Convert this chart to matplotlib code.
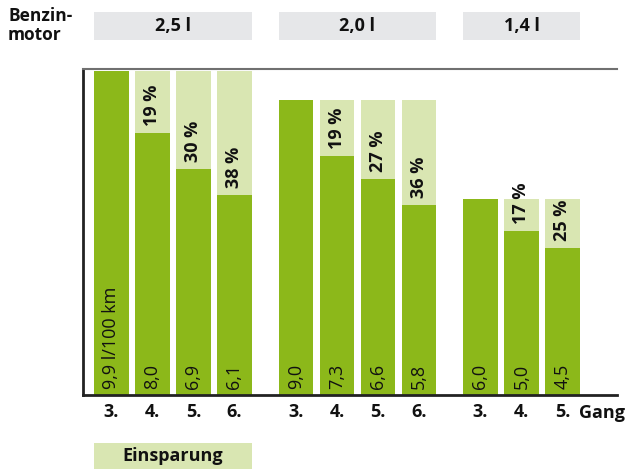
import matplotlib
matplotlib.use("Agg")
import matplotlib.pyplot as plt
from matplotlib.patches import Rectangle
from matplotlib.transforms import offset_copy, blended_transform_factory

plt.rcParams['font.family'] = ['Open Sans', 'DejaVu Sans']

# ---- data ----
engines = ["2,5 l", "2,0 l", "1,4 l"]
gears = [["3.", "4.", "5.", "6."], ["3.", "4.", "5.", "6."], ["3.", "4.", "5."]]
consumption = [[9.9, 8.0, 6.9, 6.1], [9.0, 7.3, 6.6, 5.8], [6.0, 5.0, 4.5]]
value_labels = [["9,9 l/100 km", "8,0", "6,9", "6,1"],
                ["9,0", "7,3", "6,6", "5,8"],
                ["6,0", "5,0", "4,5"]]
savings = [["", "19 %", "30 %", "38 %"],
           ["", "19 %", "27 %", "36 %"],
           ["", "17 %", "25 %"]]
title = "Benzin-\nmotor"
unit_label = "Gang"
legend_label = "Einsparung"

GREEN = "#8cb81a"
LIGHT = "#d9e6b2"
GRAY = "#e6e7e9"
TXT = "#111111"

W, H = 636, 470
fig = plt.figure(figsize=(W / 100, H / 100), dpi=100)
ax_l, ax_r, ax_t, ax_b = 83, 617, 69, 395
ax = fig.add_axes([ax_l / W, (H - ax_b) / H, (ax_r - ax_l) / W, (ax_b - ax_t) / H])

step, gap, bw = 1.0, 1.5, 0.85
positions = []
x = 0.0
for gi, g in enumerate(consumption):
    pos = []
    for i in range(len(g)):
        pos.append(x)
        x += step
    x += gap - step
    positions.append(pos)

ax.set_xlim(-0.695, 12.33)
ax.set_ylim(0, 9.96)

for gi, vals in enumerate(consumption):
    pos = positions[gi]
    base = vals[0]
    ax.bar(pos[1:], [base] * (len(vals) - 1), width=bw, color=LIGHT, zorder=1)
    ax.bar(pos, vals, width=bw, color=GREEN, zorder=2)
    for i, (p, v) in enumerate(zip(pos, vals)):
        tr = offset_copy(ax.transData, fig=fig, x=0, y=6, units='dots')
        ax.text(p, 0, value_labels[gi][i], rotation=90, ha='center', va='bottom',
                fontsize=13, color=TXT, transform=tr, zorder=3)
        if savings[gi][i]:
            tr2 = offset_copy(ax.transData, fig=fig, x=0, y=7, units='dots')
            ax.text(p, v, savings[gi][i], rotation=90, ha='center', va='bottom',
                    fontsize=13, fontweight='bold', color=TXT, transform=tr2, zorder=3)

ax.spines['right'].set_visible(False)
ax.spines['top'].set_color('#707070')
ax.spines['top'].set_linewidth(1.5)
ax.spines['left'].set_linewidth(2)
ax.spines['left'].set_color('#222222')
ax.spines['bottom'].set_linewidth(2)
ax.spines['bottom'].set_color('#222222')

all_pos = [p for pos in positions for p in pos]
all_lab = [l for gl in gears for l in gl]
ax.set_xticks(all_pos)
ax.set_xticklabels(all_lab, fontsize=13, fontweight='bold', color=TXT)
ax.tick_params(axis='x', length=0, pad=6)
ax.set_yticks([])

ax.annotate(unit_label, xy=(positions[-1][-1], 0), xycoords='data',
            xytext=(17, -9), textcoords='offset pixels',
            ha='left', va='top', fontsize=13, fontweight='bold', color=TXT,
            annotation_clip=False)

bt = blended_transform_factory(ax.transData, fig.transFigure)
for gi, name in enumerate(engines):
    pos = positions[gi]
    x0 = pos[0] - bw / 2
    x1 = pos[-1] + bw / 2
    y0 = (H - 40) / H
    y1 = (H - 12) / H
    ax.add_patch(Rectangle((x0, y0), x1 - x0, y1 - y0, transform=bt,
                           facecolor=GRAY, edgecolor='none', clip_on=False))
    ax.text((x0 + x1) / 2, (y0 + y1) / 2, name, transform=bt, ha='center',
            va='center', fontsize=13, fontweight='bold', color=TXT)

fig.text(8 / W, 1 - 7 / H, title, ha='left', va='top', fontsize=12.5,
         fontweight='bold', color=TXT, linespacing=1.1)

lx0 = positions[0][0] - bw / 2
lx1 = positions[0][-1] + bw / 2
ly0 = (H - 469) / H
ly1 = (H - 443) / H
ax.add_patch(Rectangle((lx0, ly0), lx1 - lx0, ly1 - ly0, transform=bt,
                       facecolor=LIGHT, edgecolor='none', clip_on=False))
ax.text((lx0 + lx1) / 2, (ly0 + ly1) / 2, legend_label, transform=bt,
        ha='center', va='center', fontsize=13, fontweight='bold', color=TXT)

fig.savefig("out.png", dpi=100)
